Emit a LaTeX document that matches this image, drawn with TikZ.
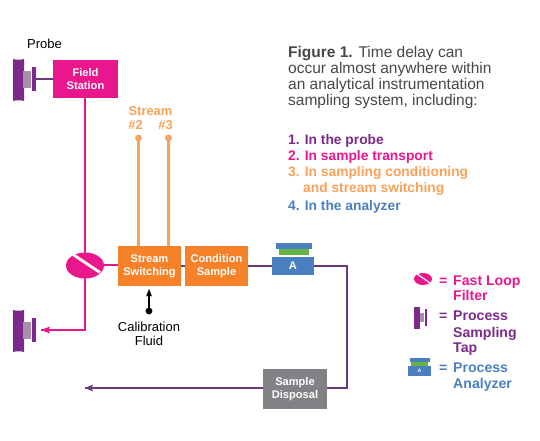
\documentclass[tikz,border=0pt]{standalone}
\usepackage{fontspec}
\setmainfont{Liberation Sans}
\usetikzlibrary{arrows.meta}
\definecolor{pinkc}{HTML}{E9168C}
\definecolor{purpc}{HTML}{7B2A8C}
\definecolor{linep}{HTML}{6B3A7D}
\definecolor{orangec}{HTML}{F58229}
\definecolor{orangel}{HTML}{F9A25B}
\definecolor{bluec}{HTML}{4A80C0}
\definecolor{greenc}{HTML}{66B445}
\definecolor{grayc}{HTML}{808285}
\definecolor{tapc}{HTML}{A98FAE}
\definecolor{textc}{HTML}{47474A}
\tikzset{
  x=1pt,y=-1pt,
  boxn/.style={minimum width=#1,inner sep=0pt,align=center,text=white,font=\fontsize{11.1}{13}\selectfont\bfseries},
  txt/.style={anchor=base west,inner sep=0pt},
  body/.style={txt,text=textc,font=\fontsize{15.5}{16}\selectfont},
  item/.style={txt,font=\fontsize{13.8}{16}\selectfont\bfseries},
  leg/.style={txt,font=\fontsize{14.1}{16}\selectfont\bfseries},
  plabel/.style={inner sep=0pt,align=center,font=\fontsize{13}{14}\selectfont,text=black},
  slab/.style={inner sep=0pt,text=orangel,font=\fontsize{12.9}{15}\selectfont\bfseries},
  pinkline/.style={draw=pinkc,line width=1.9pt},
  orangeline/.style={draw=orangel,line width=2.2pt},
  purpline/.style={draw=linep,line width=1.9pt},
}
\newcommand{\tapshape}[1]{%
  \fill[purpc] (13,#1) .. controls (16,#1+1) and (21,#1+1) .. (24,#1) -- (24,#1+42) .. controls (21,#1+41) and (16,#1+41) .. (13,#1+42) -- cycle;
  \fill[tapc] (23,#1+12) rectangle (31,#1+29);
  \fill[purpc] (32,#1+8) rectangle (36,#1+32);
}
\begin{document}
\begin{tikzpicture}
\useasboundingbox (0,0) rectangle (540,441);
\fill[white] (0,0) rectangle (540,441);

\node[boxn=65pt,fill=pinkc,minimum height=38pt] (field) at (85.5,79) {Field\\Station};
\node[boxn=63pt,fill=orangec,minimum height=40pt] (stream) at (149.5,266) {Stream\\Switching};
\node[boxn=63pt,fill=orangec,minimum height=40pt] (cond) at (216.5,266) {Condition\\Sample};
\node[boxn=42pt,fill=bluec,minimum height=18pt] (ana) at (293,266) {A};
\node[boxn=64pt,fill=grayc,minimum height=40pt] (disp) at (295,389) {Sample\\Disposal};
\fill[greenc] (279,249) rectangle (309,255);
\fill[bluec] (276,243) rectangle (312,249);

\tapshape{59}
\tapshape{310}
\coordinate (ptop) at (36,79);
\coordinate (pbot) at (41,330);
\coordinate (pcorner) at (85,330);
\coordinate (dcorner) at (347,388);
\coordinate (acorner) at (347,266);
\coordinate (outend) at (85,388);
\draw[purpline] (ptop) -- (field.west |- ptop);
\coordinate (fc) at (85,265);

% filter
\draw[pinkline] (fc |- field.south) -- (pcorner) -- (pbot);
\fill[pinkc] (pbot) -- ++(9,-3.5) -- ++(-1.5,3.5) -- ++(1.5,3.5) -- cycle;
\draw[pinkline] (fc) -- (stream.west |- fc);
\fill[pinkc] (85,265.5) ellipse [x radius=19,y radius=13];
\draw[white,line width=2.8pt] (73,254.5) -- (100,272.5);

% streams
\node[slab] (slabel) at (150.5,111) {Stream};
\node[slab] (s2l) at (135.5,125) {\#2};
\node[slab] (s3l) at (165.5,125) {\#3};
\fill[orangel] (138.5,138) circle (3.4) coordinate (s2);
\fill[orangel] (168.5,138) circle (3.4) coordinate (s3);
\draw[orangeline] (s2) -- (s2 |- stream.north);
\draw[orangeline] (s3) -- (s3 |- stream.north);

% process line
\draw[purpline] (stream.east |- cond.west) -- (cond.west);
\draw[purpline] (cond.east) -- (ana.west);
\draw[purpline] (ana.east) -- (acorner) -- (dcorner) -- (disp.east |- dcorner);
\draw[purpline] (disp.west |- dcorner) -- (outend);
\fill[linep] (outend) -- ++(8,-3.5) -- ++(-1.5,3.5) -- ++(1.5,3.5) -- cycle;

% calibration
\fill[black] (149,311) circle (3.4) coordinate (cal);
\coordinate (calend) at (149,289);
\draw[black,line width=1.5pt] (cal) -- (149,294);
\fill[black] (calend) -- ++(3,7.5) -- ++(-3,-1.5) -- ++(-3,1.5) -- cycle;

% labels
\node[plabel,anchor=base west] (probe) at (27,49) {Probe};
\node[plabel] (calib) at (149,333.5) {Calibration\\Fluid};

% caption
\node[body] (c1) at (288,58) {\textbf{Figure 1.} Time delay can};
\node[body] (c2) at (288,74) {occur almost anywhere within};
\node[body] (c3) at (288,90) {an analytical instrumentation};
\node[body] (c4) at (288,106) {sampling system, including:};
\node[item,text=purpc] (i1) at (288,144) {1. In the probe};
\node[item,text=pinkc] (i2) at (288,160) {2. In sample transport};
\node[item,text=orangel] (i3) at (288,176) {3. In sampling conditioning};
\node[item,text=orangel] (i3b) at (303,192) {and stream switching};
\node[item,text=bluec] (i4) at (288,210) {4. In the analyzer};

% legend
\fill[pinkc] (423,279) ellipse [x radius=9,y radius=6];
\draw[white,line width=1.2pt] (417,274) -- (430,283);
\node[leg,text=pinkc] (e1) at (439,285) {=};
\node[leg,text=pinkc] (l1) at (453,285) {Fast Loop};
\node[leg,text=pinkc] (l1b) at (453,300) {Filter};

\fill[purpc] (414,307) rectangle (420,329);
\fill[tapc] (420,313) rectangle (424,322);
\fill[purpc] (425,309) rectangle (426.5,326);
\node[leg,text=purpc] (e2) at (439,320) {=};
\node[leg,text=purpc] (l2) at (453,320) {Process};
\node[leg,text=purpc] (l2b) at (453,337) {Sampling};
\node[leg,text=purpc] (l2c) at (453,352) {Tap};

\fill[bluec] (410,358) rectangle (430,362);
\fill[greenc] (411,362) rectangle (428,366);
\fill[bluec] (408,366) rectangle (431,376);
\node[inner sep=0pt,text=white,font=\fontsize{5}{6}\selectfont\bfseries] (al) at (419.5,371) {A};
\node[leg,text=bluec] (e3) at (439,372) {=};
\node[leg,text=bluec] (l3) at (453,372) {Process};
\node[leg,text=bluec] (l3b) at (453,388) {Analyzer};
\end{tikzpicture}
\end{document}
